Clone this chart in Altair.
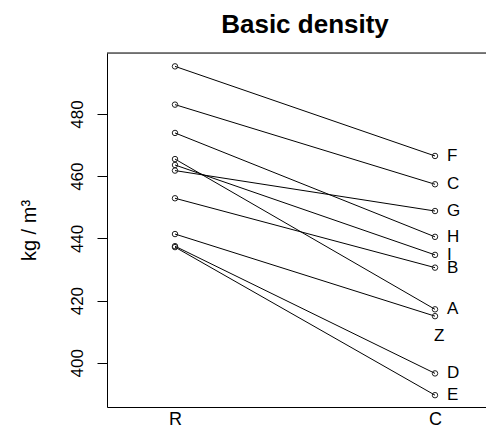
import altair as alt
import pandas as pd

# Data
labels = ["F", "C", "H", "A", "I", "G", "B", "Z", "D", "E"]
r_values = [495.3, 483.0, 473.9, 465.5, 463.6, 461.8, 452.9, 441.4, 437.5, 437.2]
c_values = [466.5, 457.4, 440.5, 417.2, 434.7, 448.8, 430.6, 415.0, 396.6, 389.6]
x_categories = ["R", "C"]
y_ticks = [400, 420, 440, 460, 480]

rows = []
for lab, rv, cv in zip(labels, r_values, c_values):
    rows.append({"id": lab, "pos": 1, "value": rv})
    rows.append({"id": lab, "pos": 2, "value": cv})
df = pd.DataFrame(rows)

FONT = "Liberation Sans"

x_scale = alt.Scale(domain=[1 - 68 / 260, 2 + 51 / 260], nice=False, zero=False)
y_scale = alt.Scale(domain=[385.8, 499.6], nice=False, zero=False)

label_expr = " : ".join(
    [f"datum.value == {i + 1} ? '{c}'" for i, c in enumerate(x_categories[:-1])]
) + f" : '{x_categories[-1]}'"

x_enc = alt.X(
    "pos:Q",
    scale=x_scale,
    axis=alt.Axis(
        values=[1, 2],
        labelExpr=label_expr,
        ticks=False,
        grid=False,
        title=None,
        domainColor="black",
        labelColor="black",
        labelFont=FONT,
        labelFontSize=18,
        labelPadding=3,
        labelFlush=False,
    ),
)
y_enc = alt.Y(
    "value:Q",
    scale=y_scale,
    axis=alt.Axis(
        values=y_ticks,
        grid=False,
        tickSize=10,
        tickColor="black",
        domainColor="black",
        labelColor="black",
        labelFont=FONT,
        labelFontSize=17,
        labelAngle=270,
        labelAlign="center",
        labelBaseline="alphabetic",
        labelPadding=15,
        labelFlush=False,
        title="kg / m³",
        titleFont=FONT,
        titleFontSize=20,
        titleFontWeight="normal",
        titleColor="black",
        titleAngle=270,
        titleAlign="center",
        titleBaseline="alphabetic",
        titleX=-72,
        titleY=177,
    ),
)

base = alt.Chart(df)

lines = base.mark_line(color="black", strokeWidth=1).encode(
    x=x_enc, y=y_enc, detail="id:N"
)
points = base.mark_point(
    shape="circle", filled=False, size=30, color="#222222", strokeWidth=1, opacity=1
).encode(x="pos:Q", y="value:Q")

text_main = base.transform_filter(
    (alt.datum.pos == 2) & (alt.datum.id != "Z")
).mark_text(
    align="left", baseline="middle", dx=12, font=FONT, fontSize=17, color="black"
).encode(x="pos:Q", y="value:Q", text="id:N")

text_z = base.transform_filter(
    (alt.datum.pos == 2) & (alt.datum.id == "Z")
).mark_text(
    align="left", baseline="middle", dx=-1, dy=20, font=FONT, fontSize=17, color="black"
).encode(x="pos:Q", y="value:Q", text="id:N")

top_border = alt.Chart(pd.DataFrame({"a": [0]})).mark_rule(
    color="black", strokeWidth=1
).encode(x=alt.value(0), x2=alt.value(379), y=alt.value(0))

chart = (
    alt.layer(top_border, lines, points, text_main, text_z)
    .properties(
        width=379,
        height=354,
        autosize=alt.AutoSizeParams(type="none"),
        padding={"left": 99, "top": 45, "right": 0, "bottom": 22},
        title=alt.TitleParams(
            "Basic density",
            font=FONT,
            fontSize=26,
            fontWeight="bold",
            color="black",
            anchor="middle",
            dx=8.5,
            offset=15,
        ),
    )
    .configure_view(strokeWidth=0)
    .configure(background="white")
)

chart.save("out.html", embed_options={"renderer": "svg", "actions": False})
